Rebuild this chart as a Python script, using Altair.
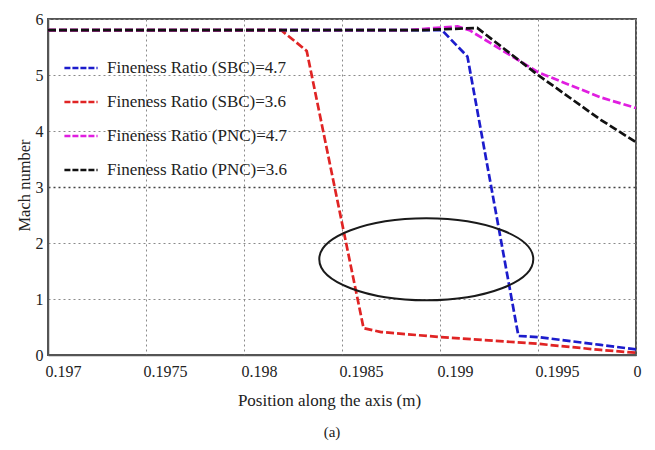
import altair as alt
import pandas as pd

# Mach number along the axis for two nose-cone shapes and two fineness ratios
series_names = [
    "Fineness Ratio (SBC)=4.7",
    "Fineness Ratio (SBC)=3.6",
    "Fineness Ratio (PNC)=4.7",
    "Fineness Ratio (PNC)=3.6",
]
series_colors = ["#1c1ccc", "#e02424", "#e01ee0", "#111111"]

sbc47_x = [0.197, 0.19901, 0.19914, 0.19940, 0.19950, 0.19982, 0.2]
sbc47_y = [5.80, 5.80, 5.33, 0.34, 0.32, 0.18, 0.10]

sbc36_x = [0.197, 0.19819, 0.19832, 0.19861, 0.19870, 0.19900, 0.19950, 0.19982, 0.2]
sbc36_y = [5.80, 5.80, 5.43, 0.48, 0.41, 0.32, 0.20, 0.09, 0.04]

pnc47_x = [0.197, 0.19883, 0.19909, 0.19915, 0.19950, 0.19982, 0.2]
pnc47_y = [5.80, 5.80, 5.87, 5.80, 5.05, 4.60, 4.41]

pnc36_x = [0.197, 0.19890, 0.19919, 0.19950, 0.19982, 0.2]
pnc36_y = [5.80, 5.80, 5.84, 5.00, 4.20, 3.80]

x_ticks = [0.197, 0.1975, 0.198, 0.1985, 0.199, 0.1995, 0.2]
y_ticks = [0, 1, 2, 3, 4, 5, 6]

# highlighted region (centre of the ellipse)
ellipse_x = [0.19893]
ellipse_y = [1.71]

rows = []
for name, xs, ys in zip(
    series_names,
    [sbc47_x, sbc36_x, pnc47_x, pnc36_x],
    [sbc47_y, sbc36_y, pnc47_y, pnc36_y],
):
    for xv, yv in zip(xs, ys):
        rows.append({"pos": xv, "mach": yv, "series": name})
df = pd.DataFrame(rows)

serif = "Liberation Serif, Times New Roman, serif"
ink = "#222222"

x_enc = alt.X(
    "pos:Q",
    scale=alt.Scale(domain=[0.197, 0.2], nice=False, zero=False),
    axis=alt.Axis(
        values=x_ticks,
        labelExpr="datum.value >= 0.19999 ? '0' : format(datum.value, '.4~f')",
        labelFont=serif,
        labelFontSize=16,
        labelColor=ink,
        labelPadding=8,
        labelAlign="left",
        labelOffset=-3,
        labelFlush=False,
        title="Position along the axis (m)",
        titleFont=serif,
        titleFontSize=17,
        titleFontWeight="normal",
        titleColor=ink,
        titleX=281,
        titleY=45,
        titleBaseline="middle",
    ),
)
y_enc = alt.Y(
    "mach:Q",
    scale=alt.Scale(domain=[0, 6], nice=False),
    axis=alt.Axis(
        values=y_ticks,
        format="d",
        labelFont=serif,
        labelFontSize=16,
        labelColor=ink,
        labelPadding=5,
        title="Mach number",
        titleFont=serif,
        titleFontSize=16.5,
        titleFontWeight="normal",
        titleColor=ink,
        titleX=-24,
        titleY=166,
        titleBaseline="middle",
    ),
)

lines = alt.Chart(df).mark_line(strokeDash=[8, 3], strokeWidth=2.7).encode(
    x=x_enc,
    y=y_enc,
    color=alt.Color(
        "series:N",
        scale=alt.Scale(domain=series_names, range=series_colors),
        legend=alt.Legend(
            title=None,
            orient="none",
            legendX=15,
            legendY=31,
            symbolType="stroke",
            symbolSize=1100,
            symbolStrokeWidth=2.7,
            symbolDash=[6, 2],
            labelFont=serif,
            labelFontSize=17,
            labelColor=ink,
            labelOffset=8,
            labelLimit=400,
            rowPadding=8,
            padding=0,
        ),
    ),
    detail="series:N",
)

ellipse_df = pd.DataFrame({"pos": ellipse_x, "mach": ellipse_y})
ellipse = alt.Chart(ellipse_df).mark_point(
    shape="M-1,0A1,0.383,0,1,1,1,0A1,0.383,0,1,1,-1,0Z",
    size=214 * 214,
    filled=False,
    stroke="#1a1a1a",
    strokeWidth=2,
    opacity=1,
).encode(x="pos:Q", y="mach:Q")

caption = alt.Chart(pd.DataFrame({"t": ["(a)"]})).mark_text(
    font=serif, fontSize=15, color=ink
).encode(text="t:N", x=alt.value(284), y=alt.value(413))

chart = (
    alt.layer(lines, ellipse, caption)
    .properties(
        width=588,
        height=336,
        autosize=alt.AutoSizeParams(type="none"),
        padding={"left": 48, "top": 19, "right": 19, "bottom": 95},
        background="white",
    )
    .configure_axis(
        ticks=False,
        domainColor="#555555",
        domainWidth=1.5,
        grid=True,
        gridColor={"condition": {"test": "datum.value === 3", "value": "#444444"}, "value": "#8a8a8a"},
        gridWidth={"condition": {"test": "datum.value === 3", "value": 1.6}, "value": 1},
        gridDash=[2, 3],
    )
    .configure_view(stroke="#555555", strokeWidth=2)
)

chart.save("out.html", embed_options={"renderer": "svg", "actions": False})
